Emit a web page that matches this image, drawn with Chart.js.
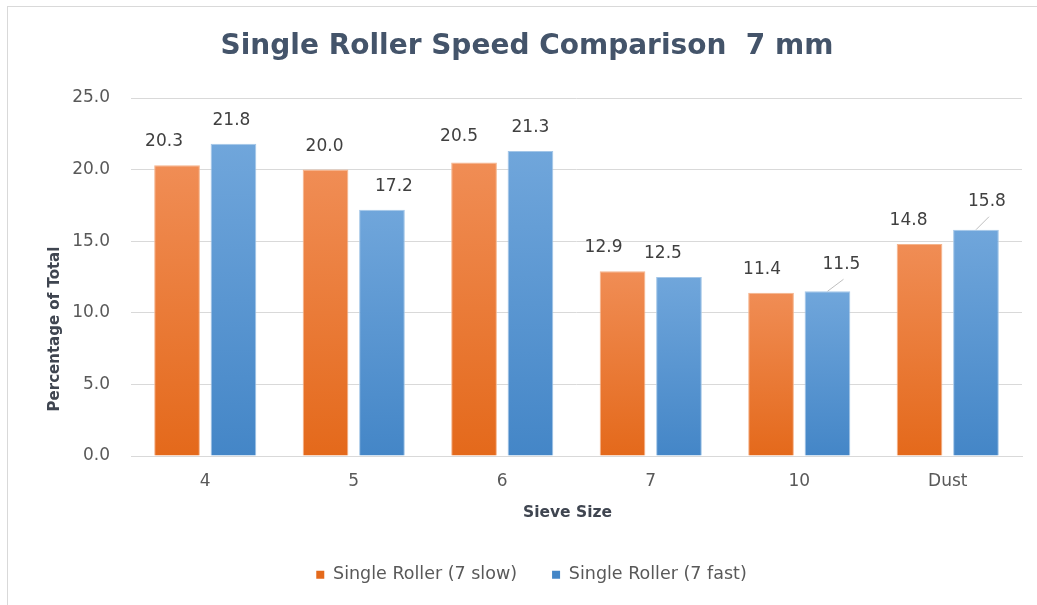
<!DOCTYPE html>
<html>
<head>
<meta charset="utf-8">
<title>Single Roller Speed Comparison 7 mm</title>
<script src="https://cdn.jsdelivr.net/npm/chart.js@4/dist/chart.umd.min.js"></script>
<style>
  html, body { margin: 0; padding: 0; background: #fff; overflow: hidden; }
  #wrap { position: relative; width: 1037px; height: 605px; }
</style>
</head>
<body>
<div id="wrap"><canvas id="chart" width="1037" height="605"></canvas></div>
<script>
// Sieve fractions, percentage of total for each roller speed
const sieveSizes = ['4', '5', '6', '7', '10', 'Dust'];
const slowValues = [20.3, 20.0, 20.5, 12.9, 11.4, 14.8];
const fastValues = [21.8, 17.2, 21.3, 12.5, 11.5, 15.8];
const seriesNames = ['Single Roller (7 slow)', 'Single Roller (7 fast)'];
const yTicks = [0, 5, 10, 15, 20, 25];

const chartTitle = 'Single Roller Speed Comparison  7 mm';
const yTitle = 'Percentage of Total';
const xTitle = 'Sieve Size';

const FONT = '"DejaVu Sans", Verdana, sans-serif';
const GRID = '#D9D9D9';
const TEXT = '#595959';

// top / bottom colours of the vertical gradient used on each bar
const fills = [
  { top: '#F08D55', bottom: '#E4691B', edge: '#F5B48C' },
  { top: '#70A6DB', bottom: '#4486C7', edge: '#A3C6E8' }
];

// hand-placed value labels (offset from the bar's top centre, key = "dataset:index");
// the ones flagged with a leader get a thin line back to their bar
const labelOffsets = {
  '0:0': { dx: -13 }, '1:0': { dx: -2 },
  '0:1': { dx: -1 },  '1:1': { dx: 12 },
  '0:2': { dx: -15, dy: -26 }, '1:2': { dx: 0 },
  '0:3': { dx: -19 }, '1:3': { dx: -16 },
  '0:4': { dx: -9 },  '1:4': { dx: 14, dy: -27, leader: true },
  '0:5': { dx: -11 }, '1:5': { dx: 11, dy: -28, leader: true }
};

// frame, per-bar gradients, value labels, chart and axis titles
const decorations = {
  id: 'decorations',
  beforeDraw(chart) {
    const c = chart.ctx;
    c.save();
    c.fillStyle = '#fff';
    c.fillRect(0, 0, chart.width, chart.height);
    c.strokeStyle = '#D9D9D9';
    c.lineWidth = 1;
    c.strokeRect(7.5, 6.5, chart.width + 20, chart.height + 20);
    c.restore();
  },
  beforeDatasetsDraw(chart) {
    const c = chart.ctx;
    chart.data.datasets.forEach((ds, di) => {
      const meta = chart.getDatasetMeta(di);
      meta.data.forEach(bar => {
        const g = c.createLinearGradient(0, bar.y, 0, bar.base);
        g.addColorStop(0, fills[di].top);
        g.addColorStop(1, fills[di].bottom);
        bar.options.backgroundColor = g;
      });
    });
  },
  afterDatasetsDraw(chart) {
    const c = chart.ctx;
    c.save();
    c.font = '17px ' + FONT;
    c.fillStyle = '#404040';
    c.textAlign = 'center';
    c.textBaseline = 'middle';
    chart.data.datasets.forEach((ds, di) => {
      const meta = chart.getDatasetMeta(di);
      meta.data.forEach((bar, i) => {
        const txt = ds.data[i].toFixed(1);
        const o = labelOffsets[di + ':' + i] || {};
        const lx = bar.x + (o.dx || 0);
        const ly = bar.y + (o.dy || -23.5);
        if (o.leader) {
          c.strokeStyle = '#BFBFBF';
          c.lineWidth = 1;
          c.beginPath();
          c.moveTo(bar.x, bar.y);
          c.lineTo(lx + 2, ly + 15);
          c.stroke();
        }
        c.fillText(txt, lx, ly);
      });
    });
    c.restore();
  },
  afterDraw(chart) {
    const c = chart.ctx;
    const a = chart.chartArea;
    c.save();
    c.textAlign = 'center';
    c.textBaseline = 'middle';
    // chart title
    c.font = 'bold 28px ' + FONT;
    c.fillStyle = '#44546A';
    c.fillText(chartTitle, 527, 47);
    // category axis title
    c.font = 'bold 15.5px ' + FONT;
    c.fillStyle = '#3F4550';
    c.fillText(xTitle, (a.left + a.right) / 2 - 9, a.bottom + 57);
    // value axis title
    c.translate(55, a.bottom - 127);
    c.rotate(-Math.PI / 2);
    c.font = 'bold 15px ' + FONT;
    c.fillText(yTitle, 0, 0);
    c.restore();
  }
};

new Chart(document.getElementById('chart'), {
  type: 'bar',
  data: {
    labels: sieveSizes,
    datasets: [
      {
        label: seriesNames[0],
        data: slowValues,
        backgroundColor: () => fills[0].bottom,
        borderColor: fills[0].edge,
        borderWidth: 1,
        categoryPercentage: 0.76,
        barPercentage: 0.81
      },
      {
        label: seriesNames[1],
        data: fastValues,
        backgroundColor: () => fills[1].bottom,
        borderColor: fills[1].edge,
        borderWidth: 1,
        categoryPercentage: 0.76,
        barPercentage: 0.81
      }
    ]
  },
  options: {
    responsive: false,
    animation: false,
    devicePixelRatio: 1,
    layout: { padding: { left: 41, right: 15, top: 98, bottom: 11.5 } },
    plugins: {
      title: { display: false },
      tooltip: { enabled: false },
      legend: {
        position: 'bottom',
        labels: {
          font: { family: FONT, size: 17.5 },
          color: TEXT,
          boxWidth: 8,
          boxHeight: 8,
          padding: 35,
          generateLabels(chart) {
            return chart.data.datasets.map((ds, i) => ({
              text: ds.label,
              fillStyle: fills[i].bottom,
              strokeStyle: fills[i].bottom,
              fontColor: TEXT,
              lineWidth: 0,
              datasetIndex: i
            }));
          }
        }
      }
    },
    scales: {
      x: {
        grid: { display: false, drawTicks: false },
        border: { display: true, color: GRID },
        ticks: { font: { family: FONT, size: 17 }, color: TEXT, padding: 15 },
        title: { display: false },
        afterFit(scale) { scale.height = 75; }
      },
      y: {
        min: 0,
        max: 25,
        grid: { color: GRID, drawTicks: false },
        border: { display: false },
        afterBuildTicks(scale) { scale.ticks = yTicks.map(v => ({ value: v })); },
        ticks: {
          font: { family: FONT, size: 17 },
          color: TEXT,
          padding: 21,
          callback: v => Number(v).toFixed(1)
        },
        afterFit(scale) { scale.width = 90; }
      }
    }
  },
  plugins: [decorations]
});
</script>
</body>
</html>
